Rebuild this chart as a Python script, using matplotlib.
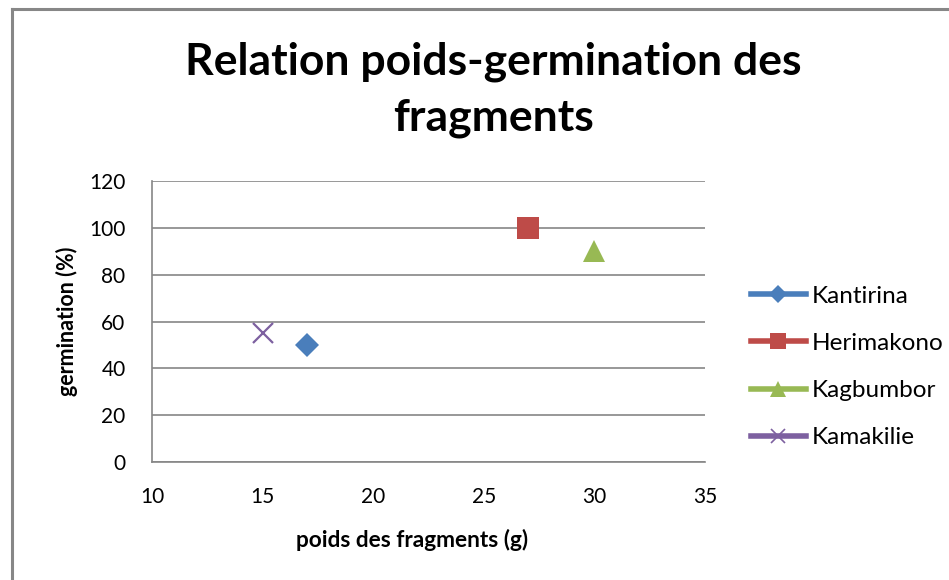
import matplotlib
matplotlib.use("Agg")
import matplotlib.pyplot as plt
from matplotlib.lines import Line2D

plt.rcParams['font.family'] = ['Lato', 'DejaVu Sans']

series = ["Kantirina", "Herimakono", "Kagbumbor", "Kamakilie"]
x_vals = [17, 27, 30, 15]
y_vals = [50, 100, 90, 55]
colors = ["#4a7ebb", "#be4b48", "#98b954", "#7d60a0"]
markers = ["D", "s", "^", "x"]
msizes = [12, 15.5, 16, 14]
x_ticks = [10, 15, 20, 25, 30, 35]
y_ticks = [0, 20, 40, 60, 80, 100, 120]

W, H = 949, 580
fig = plt.figure(figsize=(W / 100, H / 100), dpi=100)
fig.patch.set_facecolor("white")

# outer chart frame (partially visible)
fig.add_artist(Line2D([12 / W, 12 / W], [0, 1 - 9 / H], color="#878787", lw=2.2, transform=fig.transFigure))
fig.add_artist(Line2D([12 / W, 1], [1 - 9 / H, 1 - 9 / H], color="#878787", lw=2.2, transform=fig.transFigure))

ax = fig.add_axes([152 / W, 1 - 462 / H, (705 - 152) / W, (462 - 181) / H])
handles = []
for name, xv, yv, c, m, ms in zip(series, x_vals, y_vals, colors, markers, msizes):
    mew = 1.6 if m == "x" else 0
    ax.plot([xv], [yv], linestyle="none", marker=m, markersize=ms, color=c,
            markeredgewidth=mew, zorder=3, clip_on=False)
    handles.append(Line2D([0], [0], color=c, lw=4, marker=m,
                          markersize=ms * 0.75, markeredgewidth=(1.2 if m == "x" else 0)))

ax.set_xlim(x_ticks[0], x_ticks[-1])
ax.set_ylim(y_ticks[0], y_ticks[-1])
ax.set_xticks(x_ticks)
ax.set_yticks(y_ticks)
ax.yaxis.grid(True, color="#868686", lw=1.2)
ax.set_axisbelow(True)
for s in ["top", "right"]:
    ax.spines[s].set_visible(False)
for s in ["left", "bottom"]:
    ax.spines[s].set_color("#868686")
    ax.spines[s].set_linewidth(1.2)
ax.tick_params(axis="both", length=0, labelsize=15, colors="black")
ax.tick_params(axis="x", pad=18)
ax.tick_params(axis="y", pad=19)

ax.set_xlabel("poids des fragments (g)", fontsize=16.3, fontweight="bold")
ax.xaxis.set_label_coords((412 - 152) / (705 - 152), -(529 - 462) / (462 - 181))
ax.set_ylabel("germination (%)", fontsize=15.5, fontweight="bold")
ax.yaxis.set_label_coords((78 - 152) / (705 - 152), 0.5)

fig.text(493 / W, 1 - 62 / H, "Relation poids-germination des", ha="center", va="center",
         fontsize=32, fontweight="bold")
fig.text(493 / W, 1 - 118 / H, "fragments", ha="center", va="center",
         fontsize=32, fontweight="bold")

leg = fig.legend(handles, series, loc="center left", bbox_to_anchor=(751 / W, 1 - 367 / H),
                 frameon=False, fontsize=17.5, handlelength=2.26, labelspacing=1.08,
                 handletextpad=0.25, borderaxespad=0, borderpad=0)

fig.savefig("out.png", dpi=100, facecolor="white")
